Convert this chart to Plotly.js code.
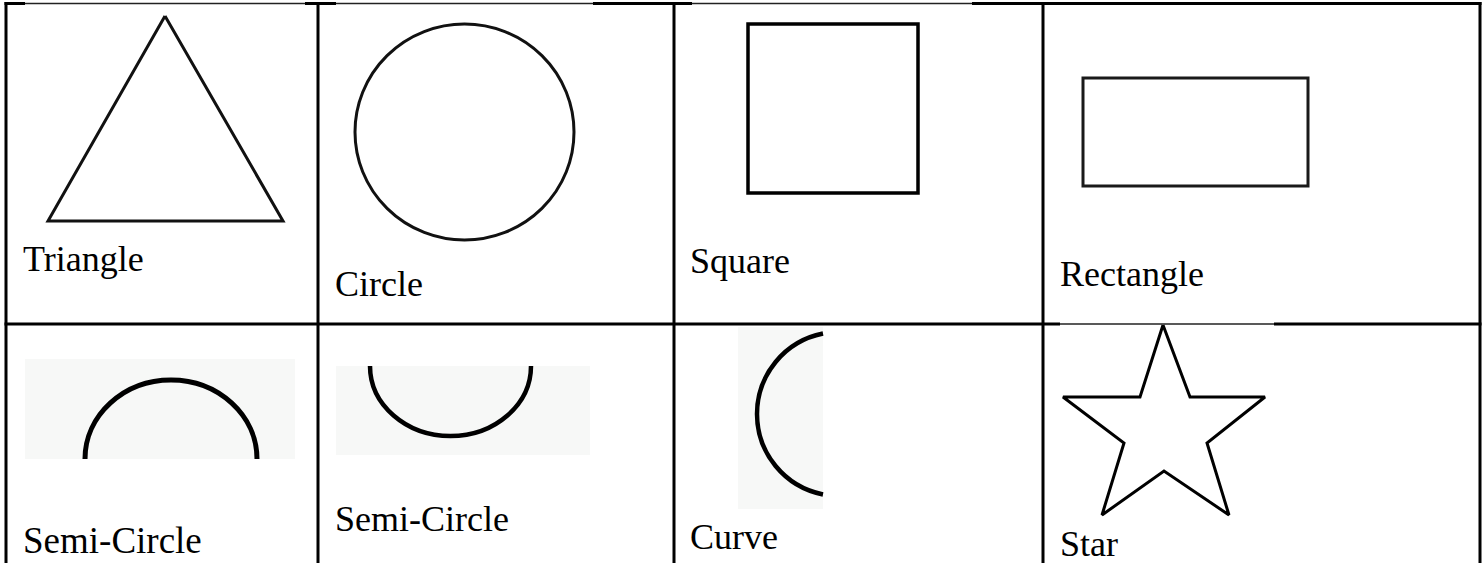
<!DOCTYPE html>
<html>
<head>
<meta charset="utf-8">
<script src="https://cdn.plot.ly/plotly-3.0.1.min.js"></script>
<style>
  html, body { margin: 0; padding: 0; background: #fff; }
  #chart { width: 1482px; height: 563px; }
</style>
</head>
<body>
<div id="chart"></div>
<script>
// table grid
const colEdges = [6, 318, 674, 1043, 1480];
const rowEdges = [3.5, 324, 563];

// labels of the cells
const labels = ["Triangle", "Circle", "Square", "Rectangle", "Semi-Circle", "Semi-Circle", "Curve", "Star"];
const labelX = [21, 333, 688, 1058, 21, 333, 688, 1058];
const labelY = [259, 284, 261, 274, 540, 519, 537, 544];
const labelSize = [36, 36, 36, 36, 37, 36, 36, 36];

// outlines
const triX = [165, 283, 48, 165];
const triY = [16, 221, 221, 16];
const starX = [1163, 1190, 1265, 1207, 1229, 1164, 1102, 1124, 1063, 1140, 1163];
const starY = [325, 397, 397, 443, 515, 471, 515, 443, 397, 397, 325];

// circle, square, rectangle boxes [x0, y0, x1, y1]
const circleBox = [355, 24, 574, 240];
const squareBox = [748, 24, 918, 193];
const rectBox = [1083, 78, 1308, 186];

// image backgrounds of the arcs [x0, y0, x1, y1]
const arcBgs = [[25, 359, 295, 459], [336, 366, 590, 455], [738, 327, 823, 509]];
// arcs: start, middle, end points
const arcUpX = [85, 171, 257];
const arcUpY = [459, 380, 459];
const arcDownX = [370, 450.5, 531];
const arcDownY = [366, 436, 366];
// curve: circle centre, radius, cut at x
const curveC = [839, 414];
const curveR = 82;
const curveCut = 823;

// thin parts of border lines (images cover them)
const thinTop = [[25, 305], [336, 593], [692, 972]];
const thinRow = [[1060, 1274]];

const k = 0.5523;
function halfArcH(xs, ys) {
  const a = ys[1] - ys[0];
  const b1 = xs[1] - xs[0], b2 = xs[2] - xs[1];
  return `M ${xs[0]} ${ys[0]} C ${xs[0]} ${ys[0] + a * k} ${xs[1] - b1 * k} ${ys[1]} ${xs[1]} ${ys[1]} ` +
         `C ${xs[1] + b2 * k} ${ys[1]} ${xs[2]} ${ys[2] + a * k} ${xs[2]} ${ys[2]}`;
}
function curvePath(c, r, cut) {
  const dx = cut - c[0];
  const dy = Math.sqrt(r * r - dx * dx);
  const t = Math.acos(-dx / r);
  const h = 4 / 3 * Math.tan(t / 4) * r;
  const ux = dy / r, uy = -dx / r; // tangent at start, heading left/down
  const x0 = cut, yTop = c[1] - dy, yBot = c[1] + dy, xl = c[0] - r;
  return `M ${x0} ${yTop} C ${x0 - ux * h} ${yTop + uy * h} ${xl} ${c[1] - h} ${xl} ${c[1]} ` +
         `C ${xl} ${c[1] + h} ${x0 - ux * h} ${yBot - uy * h} ${x0} ${yBot}`;
}

const black = "#000";
const shapes = [];

arcBgs.forEach(function (b) {
  shapes.push({type: "rect", xref: "x", yref: "y", x0: b[0], y0: b[1], x1: b[2], y1: b[3],
    fillcolor: "#f7f8f7", line: {width: 0}, layer: "below"});
});

// grid lines
const thick = 3;
colEdges.forEach(function (x) {
  shapes.push({type: "line", x0: x, x1: x, y0: rowEdges[0] - 1.5, y1: rowEdges[2], line: {color: black, width: thick}});
});
function hLine(y, thin) {
  let prev = colEdges[0] - 1.5;
  thin.forEach(function (s) {
    shapes.push({type: "line", x0: prev, x1: s[0], y0: y, y1: y, line: {color: black, width: thick}});
    shapes.push({type: "line", x0: s[0], x1: s[1], y0: y, y1: y, line: {color: "#222", width: 1.3}});
    prev = s[1];
  });
  shapes.push({type: "line", x0: prev, x1: colEdges[4] + 1.5, y0: y, y1: y, line: {color: black, width: thick}});
}
hLine(rowEdges[0], thinTop);
hLine(rowEdges[1], thinRow);

// circle, square, rectangle
shapes.push({type: "circle", x0: circleBox[0], y0: circleBox[1], x1: circleBox[2], y1: circleBox[3],
  line: {color: "#111", width: 3}});
shapes.push({type: "rect", x0: squareBox[0], y0: squareBox[1], x1: squareBox[2], y1: squareBox[3],
  line: {color: black, width: 3.5}});
shapes.push({type: "rect", x0: rectBox[0], y0: rectBox[1], x1: rectBox[2], y1: rectBox[3],
  line: {color: "#1a1a1a", width: 3}});

// arcs
shapes.push({type: "path", path: halfArcH(arcUpX, arcUpY), line: {color: black, width: 5}});
shapes.push({type: "path", path: halfArcH(arcDownX, arcDownY), line: {color: black, width: 4.5}});
shapes.push({type: "path", path: curvePath(curveC, curveR, curveCut), line: {color: black, width: 4.5}});

const traces = [
  {x: triX, y: triY, type: "scatter", mode: "lines", line: {color: "#111", width: 3}, hoverinfo: "skip"},
  {x: starX, y: starY, type: "scatter", mode: "lines", line: {color: black, width: 3}, hoverinfo: "skip"}
];

const annotations = labels.map(function (t, i) {
  return {x: labelX[i], y: labelY[i], xref: "x", yref: "y", text: t, showarrow: false,
    xanchor: "left", yanchor: "middle",
    font: {family: "Liberation Serif, Times New Roman, serif", size: labelSize[i], color: black}};
});

const layout = {
  width: 1482, height: 563,
  margin: {l: 0, r: 0, t: 0, b: 0},
  paper_bgcolor: "#fff", plot_bgcolor: "#fff",
  showlegend: false,
  xaxis: {range: [0, 1482], visible: false, fixedrange: true},
  yaxis: {range: [563, 0], visible: false, fixedrange: true},
  shapes: shapes,
  annotations: annotations
};

Plotly.newPlot("chart", traces, layout, {displayModeBar: false, staticPlot: true});
</script>
</body>
</html>
